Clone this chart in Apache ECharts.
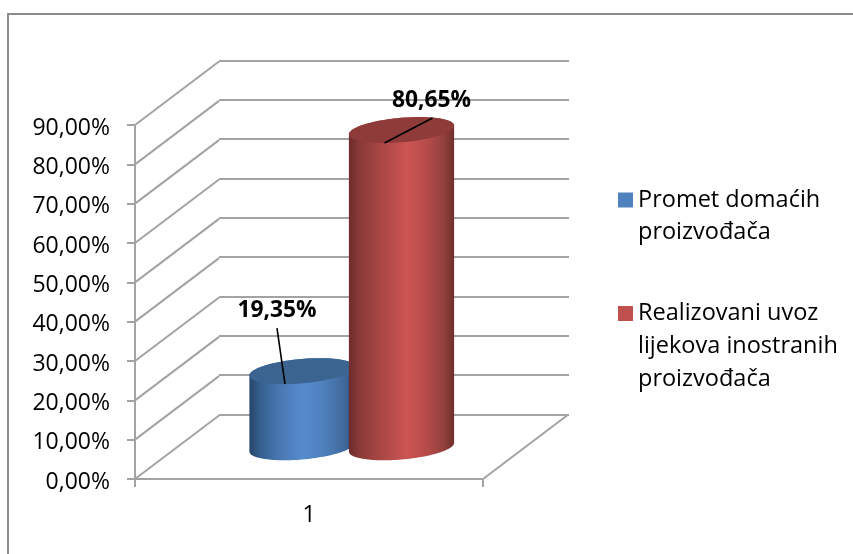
<!DOCTYPE html>
<html>
<head>
<meta charset="utf-8">
<style>html,body{margin:0;padding:0;background:#fff}#c{width:853px;height:554px}</style>
<script src="https://cdn.jsdelivr.net/npm/echarts@6/dist/echarts.min.js"></script>
</head>
<body>
<div id="c"></div>
<script>
const categories = ['1'];
const seriesNames = ['Promet domaćih\nproizvođača', 'Realizovani uvoz\nlijekova inostranih\nproizvođača'];
const domesticValues = [19.35];
const importValues = [80.65];
const yTicks = [0, 10, 20, 30, 40, 50, 60, 70, 80, 90];

const fontFamily = '"Open Sans", Lato, sans-serif';
const axisColor = '#a3a3a3';
const DEPTH = { x: 84, y: -63.5 };
const RADIUS = { a: 52.8, b: 12.2, tilt: -5 * Math.PI / 180 };
const fmt = v => v.toFixed(2).replace('.', ',') + '%';

function ellipsePoint(cx, cy, t) {
  const { a, b, tilt } = RADIUS;
  return [
    cx + a * Math.cos(t) * Math.cos(tilt) - b * Math.sin(t) * Math.sin(tilt),
    cy + a * Math.cos(t) * Math.sin(tilt) + b * Math.sin(t) * Math.cos(tilt)
  ];
}
function arc(cx, cy, from, to) {
  const pts = [];
  for (let i = 0; i <= 60; i++) pts.push(ellipsePoint(cx, cy, from + (to - from) * i / 60));
  return pts;
}
function hGradient(stops) {
  return new echarts.graphic.LinearGradient(0, 0, 1, 0, stops.map(s => ({ offset: s[0], color: s[1] })));
}

function cylinder(offset, topColor, stops, label) {
  return function (params, api) {
    const base = api.coord([api.value(0), 0]);
    const top = api.coord([api.value(0), api.value(1)]);
    const cx = base[0] + DEPTH.x / 2 + offset;
    const baseY = base[1] + DEPTH.y / 2;
    const topY = top[1] + DEPTH.y / 2;
    const t0 = Math.atan2(-RADIUS.b * Math.sin(RADIUS.tilt), RADIUS.a * Math.cos(RADIUS.tilt));
    const body = arc(cx, baseY, t0, t0 + Math.PI).concat(arc(cx, topY, t0 + Math.PI, t0 + 2 * Math.PI));
    const cap = arc(cx, topY, 0, 2 * Math.PI);
    return {
      type: 'group',
      children: [
        { type: 'polygon', shape: { points: body }, style: { fill: hGradient(stops) } },
        { type: 'polygon', shape: { points: cap }, style: { fill: topColor } },
        { type: 'line',
          shape: { x1: cx + label.from[0], y1: topY + label.from[1], x2: cx + label.to[0], y2: topY + label.to[1] },
          style: { stroke: '#000', lineWidth: 1.6 } },
        { type: 'text', x: cx + label.text[0], y: topY + label.text[1],
          style: { text: fmt(api.value(1)), fill: '#000', font: 'bold 22.8px ' + fontFamily, align: 'center', verticalAlign: 'middle' } }
      ]
    };
  };
}

function walls(params, api) {
  const children = [];
  const origin = api.coord([0, 0]);
  yTicks.forEach(v => {
    const p = api.coord([0, v]);
    const x0 = origin[0] - api.size([1, 0])[0] / 2;
    children.push({ type: 'line',
      shape: { x1: x0, y1: p[1], x2: x0 + DEPTH.x, y2: p[1] + DEPTH.y },
      style: { stroke: axisColor, lineWidth: 2 } });
  });
  const x1 = origin[0] + api.size([1, 0])[0] / 2;
  children.push({ type: 'line',
    shape: { x1: x1, y1: origin[1], x2: x1 + DEPTH.x, y2: origin[1] + DEPTH.y },
    style: { stroke: axisColor, lineWidth: 2 } });
  return { type: 'group', children };
}

const axisStyle = { lineStyle: { color: axisColor, width: 2 } };
const labelStyle = { color: '#000', fontFamily, fontSize: 23 };

const chart = echarts.init(document.getElementById('c'), null, { renderer: 'canvas' });
chart.setOption({
  animation: false,
  backgroundColor: '#fff',
  graphic: [
    { type: 'polyline', shape: { points: [[8, 554], [8, 14], [853, 14]] },
      style: { stroke: '#8c8c8c', lineWidth: 2, fill: 'none' }, silent: true }
  ],
  grid: [
    { left: 135, top: 125, width: 348, height: 354 },
    { left: 219, top: 60.5, width: 350, height: 354 }
  ],
  xAxis: [
    { type: 'category', gridIndex: 0, data: categories,
      axisLine: axisStyle, axisTick: { show: true, length: 8, alignWithLabel: false, ...axisStyle },
      axisLabel: { ...labelStyle, margin: 25 } },
    { type: 'category', gridIndex: 1, data: categories, show: false }
  ],
  yAxis: [
    { type: 'value', gridIndex: 0, min: 0, max: 90, interval: 10,
      axisLine: { show: true, ...axisStyle }, axisTick: { show: true, length: 8, ...axisStyle },
      axisLabel: { ...labelStyle, margin: 25, formatter: v => '{a|' + fmt(v) + '}',
        rich: { a: { color: '#000', fontFamily, fontSize: 23, padding: [6, 0, 0, 0] } } },
      splitLine: { show: false } },
    { type: 'value', gridIndex: 1, min: 0, max: 90, interval: 10,
      axisLine: { show: false }, axisTick: { show: false }, axisLabel: { show: false },
      splitLine: { show: true, lineStyle: { color: axisColor, width: 2 } } }
  ],
  legend: [
    { data: [seriesNames[0]], left: 618, top: 152, padding: 0, orient: 'vertical', itemWidth: 15, itemHeight: 15,
      icon: 'rect', formatter: n => '\n' + n,
      textStyle: { color: '#000', fontFamily, fontSize: 23.5, lineHeight: 32 } },
    { data: [seriesNames[1]], left: 618, top: 231, padding: 0, orient: 'vertical', itemWidth: 15, itemHeight: 15,
      icon: 'rect', formatter: n => '\n\n' + n,
      textStyle: { color: '#000', fontFamily, fontSize: 23.5, lineHeight: 33 } }
  ],
  series: [
    { type: 'custom', name: 'walls', xAxisIndex: 0, yAxisIndex: 0, silent: true, z: 1,
      renderItem: walls, data: [[0, 0]] },
    { type: 'custom', name: seriesNames[0], xAxisIndex: 0, yAxisIndex: 0, z: 2,
      itemStyle: { color: '#4f81bd' },
      renderItem: cylinder(-49, '#3c6491',
        [[0, '#274668'], [0.1, '#355f8e'], [0.3, '#4a7ab4'], [0.5, '#558ace'], [0.7, '#4f81bd'], [0.9, '#40699c'], [1, '#345580']],
        { from: [-17, 13], to: [-25, -43], text: [-25, -61] }),
      data: domesticValues.map((v, i) => [i, v]) },
    { type: 'custom', name: seriesNames[1], xAxisIndex: 0, yAxisIndex: 0, z: 3,
      itemStyle: { color: '#c0504d' },
      renderItem: cylinder(50.5, '#8e3b39',
        [[0, '#6c2c2a'], [0.1, '#8a3a38'], [0.3, '#a84644'], [0.55, '#cc5553'], [0.75, '#b34b49'], [0.9, '#93403d'], [1, '#6f2e2c']],
        { from: [-17, 13], to: [31, -12], text: [30, -30] }),
      data: importValues.map((v, i) => [i, v]) }
  ]
});
</script>
</body>
</html>
